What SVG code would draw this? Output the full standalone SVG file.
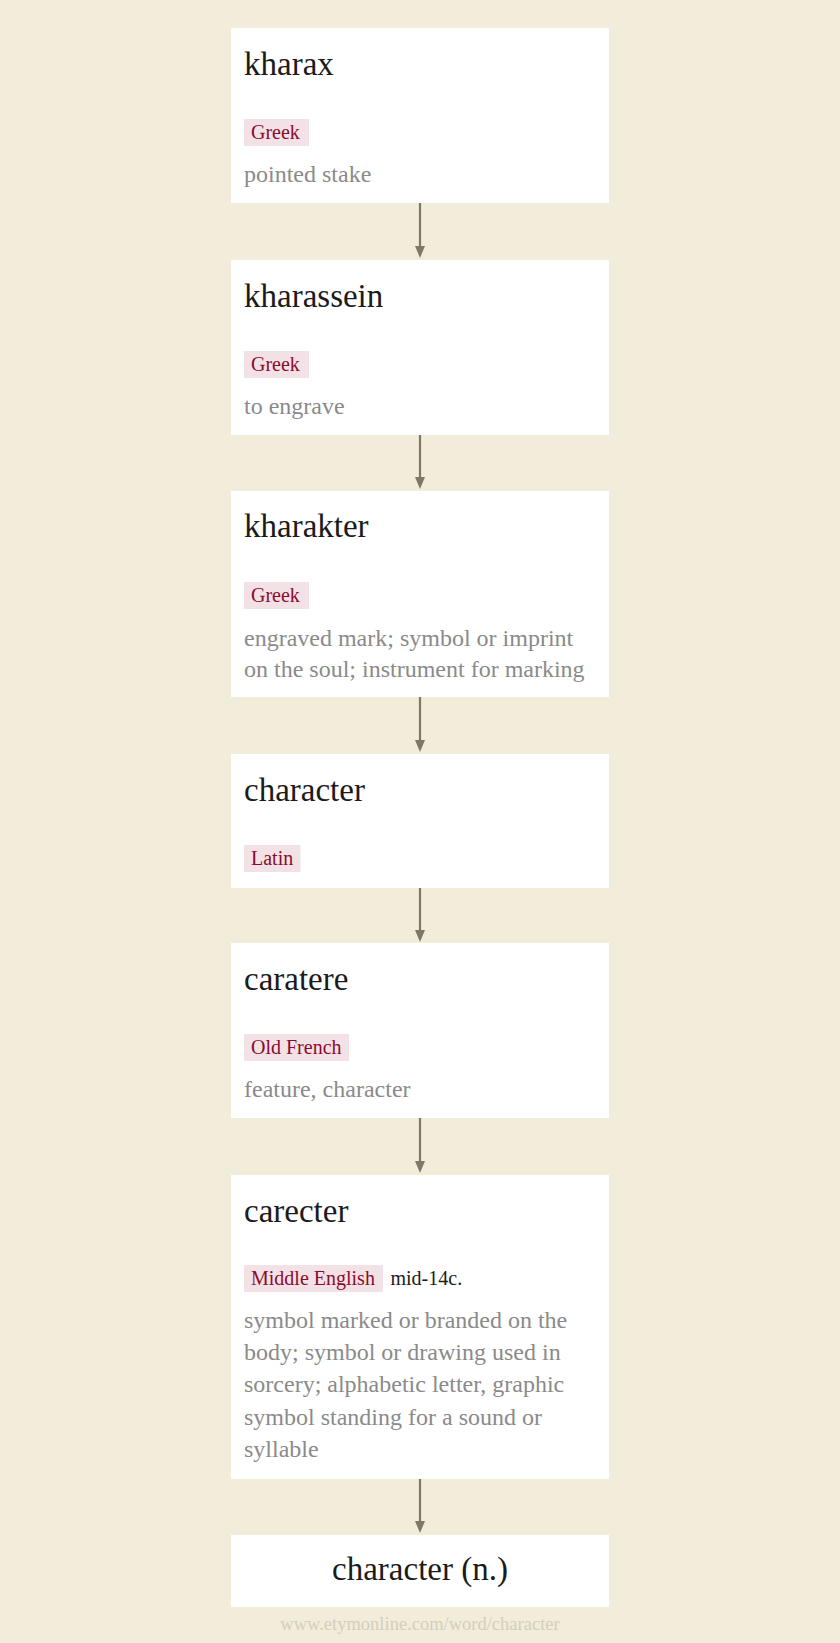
<svg xmlns="http://www.w3.org/2000/svg" width="840" height="1643" viewBox="0 0 840 1643">
<defs>
<style>
.box{fill:#ffffff}
.title{font-family:"Liberation Serif",serif;font-size:33px;fill:#1b1b1b}
.tagbg{fill:#f2e2e6}
.tag{font-family:"Liberation Serif",serif;font-size:20px;fill:#8a0c2c}
.date{font-family:"Liberation Serif",serif;font-size:20px;fill:#1b1b1b}
.desc{font-family:"Liberation Serif",serif;font-size:24px;fill:#8a8a8a}
.foot{font-family:"Liberation Serif",serif;font-size:18.5px;fill:#d4cebd}
.conn{stroke:#7d7867;stroke-width:2.2;fill:none}
</style>
<marker id="arr" viewBox="0 0 10 12" refX="5" refY="12" markerWidth="10" markerHeight="12" markerUnits="userSpaceOnUse" orient="auto-start-reverse">
<path d="M0,0 L10,0 L5,12 Z" fill="#7d7867"/>
</marker>
</defs>
<rect x="0" y="0" width="840" height="1643" fill="#f2ecdb"/>
<g id="connectors">
<line class="conn" x1="420" y1="203" x2="420" y2="246" />
<path d="M415,246 L425,246 L420,258 Z" fill="#7d7867"/>
<line class="conn" x1="420" y1="435" x2="420" y2="477" />
<path d="M415,477 L425,477 L420,489 Z" fill="#7d7867"/>
<line class="conn" x1="420" y1="697" x2="420" y2="740" />
<path d="M415,740 L425,740 L420,752 Z" fill="#7d7867"/>
<line class="conn" x1="420" y1="888" x2="420" y2="930" />
<path d="M415,930 L425,930 L420,942 Z" fill="#7d7867"/>
<line class="conn" x1="420" y1="1118" x2="420" y2="1161" />
<path d="M415,1161 L425,1161 L420,1173 Z" fill="#7d7867"/>
<line class="conn" x1="420" y1="1479" x2="420" y2="1521" />
<path d="M415,1521 L425,1521 L420,1533 Z" fill="#7d7867"/>
</g>
<g id="node-kharax">
<rect class="box" x="231" y="28" width="378" height="175"/>
<text class="title" x="244" y="75">kharax</text>
<rect class="tagbg" x="244" y="119" width="65" height="27"/>
<text class="tag" x="251" y="139">Greek</text>
<text class="desc" x="244" y="182">pointed stake</text>
</g>
<g id="node-kharassein">
<rect class="box" x="231" y="260" width="378" height="175"/>
<text class="title" x="244" y="306.5">kharassein</text>
<rect class="tagbg" x="244" y="351" width="65" height="27"/>
<text class="tag" x="251" y="371">Greek</text>
<text class="desc" x="244" y="413.5">to engrave</text>
</g>
<g id="node-kharakter">
<rect class="box" x="231" y="491" width="378" height="206"/>
<text class="title" x="244" y="537">kharakter</text>
<rect class="tagbg" x="244" y="582" width="65" height="27"/>
<text class="tag" x="251" y="602">Greek</text>
<text class="desc" x="244" y="645.5">engraved mark; symbol or imprint</text>
<text class="desc" x="244" y="677">on the soul; instrument for marking</text>
</g>
<g id="node-character-latin">
<rect class="box" x="231" y="754" width="378" height="134"/>
<text class="title" x="244" y="801">character</text>
<rect class="tagbg" x="244" y="845" width="56.5" height="27"/>
<text class="tag" x="251" y="865">Latin</text>
</g>
<g id="node-caratere">
<rect class="box" x="231" y="943" width="378" height="175"/>
<text class="title" x="244" y="989.5">caratere</text>
<rect class="tagbg" x="244" y="1034" width="105" height="27"/>
<text class="tag" x="251" y="1054">Old French</text>
<text class="desc" x="244" y="1097">feature, character</text>
</g>
<g id="node-carecter">
<rect class="box" x="231" y="1175" width="378" height="304"/>
<text class="title" x="244" y="1221.5">carecter</text>
<rect class="tagbg" x="244" y="1265" width="139" height="27"/>
<text class="tag" x="251" y="1285">Middle English</text>
<text class="date" x="390.5" y="1285">mid-14c.</text>
<text class="desc" x="244" y="1328">symbol marked or branded on the</text>
<text class="desc" x="244" y="1360">body; symbol or drawing used in</text>
<text class="desc" x="244" y="1392">sorcery; alphabetic letter, graphic</text>
<text class="desc" x="244" y="1424.5">symbol standing for a sound or</text>
<text class="desc" x="244" y="1456.5">syllable</text>
</g>
<g id="node-character-n">
<rect class="box" x="231" y="1535" width="378" height="72"/>
<text class="title" x="420" y="1580" text-anchor="middle">character (n.)</text>
</g>
<text class="foot" x="420" y="1630" text-anchor="middle">www.etymonline.com/word/character</text>
</svg>
